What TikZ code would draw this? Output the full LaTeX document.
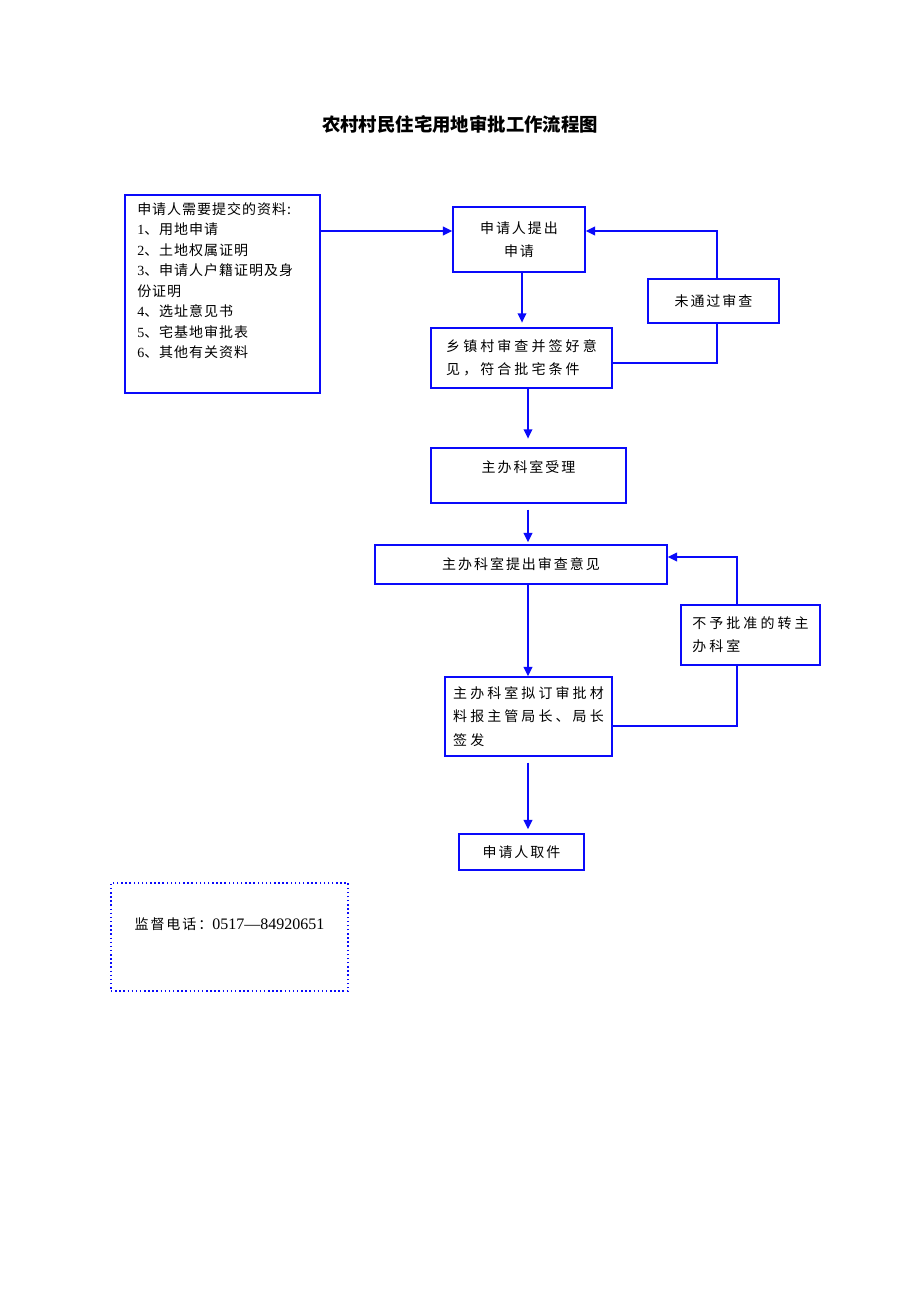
\documentclass[tikz,border=0pt]{standalone}
\usepackage{fontspec}
\setmainfont{Liberation Serif}
\newfontfamily\cjk[LetterSpace=14]{Noto Sans CJK SC}
\newfontfamily\cjktight[LetterSpace=7]{Noto Sans CJK SC}
\newfontfamily\cjkwide[LetterSpace=22]{Noto Sans CJK SC}
\newfontfamily\cjktitle{Noto Sans CJK SC}
\newfontfamily\latinfont{Liberation Serif}
\usetikzlibrary{arrows.meta, positioning}
\definecolor{lineblue}{RGB}{10,10,250}

\begin{document}
\begin{tikzpicture}[
    x=0.75pt, y=-0.75pt,
    flowbox/.style={rectangle, draw=lineblue, line width=1.1pt, inner sep=0pt,
                    font=\cjk\fontsize{10.5}{17.5}\selectfont},
    widebox/.style={flowbox, font=\cjkwide\fontsize{10.5}{17.5}\selectfont},
    arrow/.style={-{Triangle[length=7pt, width=6.5pt]}, draw=lineblue, line width=1.1pt},
    plainline/.style={draw=lineblue, line width=1.1pt}
]
\useasboundingbox (0,0) rectangle (920,1302);
\node[font=\cjktitle\bfseries\fontsize{13.8}{16}\selectfont] (title) at (460,124)
    {农村村民住宅用地审批工作流程图};
% materials list
\node[flowbox, minimum width=146.25pt, minimum height=148.5pt] (mats) at (222.5,294) {};
\node[anchor=north west, align=left, inner sep=0pt,
      font=\cjktight\fontsize{10.5}{15.4}\selectfont] (matstext) at (137,202)
    {申请人需要提交的资料:\\
     {\latinfont 1}、用地申请\\
     {\latinfont 2}、土地权属证明\\
     {\latinfont 3}、申请人户籍证明及身\\
     份证明\\
     {\latinfont 4}、选址意见书\\
     {\latinfont 5}、宅基地审批表\\
     {\latinfont 6}、其他有关资料};
% main flow
\node[flowbox, minimum width=99pt, minimum height=48.75pt, align=center] (apply) at (519,239.5)
    {申请人提出\\申请};
\node[widebox, minimum width=135.75pt, minimum height=45pt, align=left] (town) at (521.5,358)
    {乡镇村审查并签好意\\见，符合批宅条件};
\node[flowbox, minimum width=98.25pt, minimum height=33pt] (fail) at (713.5,301) {未通过审查};
\node[flowbox, minimum width=146.25pt, minimum height=41.25pt, text depth=14pt] (accept) at (528.5,475.5)
    {主办科室受理};
\node[flowbox, minimum width=219pt, minimum height=29.25pt] (opinion) at (521,564.5)
    {主办科室提出审查意见};
\node[widebox, minimum width=125.25pt, minimum height=59.25pt, align=left] (draft) at (528.5,716.5)
    {主办科室拟订审批材\\料报主管局长、局长\\签发};
\node[widebox, minimum width=104.25pt, minimum height=45pt, align=left] (reject) at (750.5,635)
    {不予批准的转主\\办科室};
\node[flowbox, minimum width=93.75pt, minimum height=27pt] (pickup) at (521.5,852) {申请人取件};
% supervision phone
\node[flowbox, dotted, line width=0.9pt,
      minimum width=177.75pt, minimum height=81pt, text depth=20.5pt] (phone) at (229.5,937)
    {监督电话：{\latinfont\fontsize{12}{15}\selectfont 0517—84920651}};

\coordinate (spine) at (528,0);
\coordinate (loop1) at (717,0);
\coordinate (loop2) at (737,0);
\draw[arrow] (mats.east |- 0,231) -- (apply.west |- 0,231);
\draw[arrow, shorten >=3.5pt] (apply.south -| 522,0) -- (town.north -| 522,0);
\draw[arrow, shorten >=6.5pt] (town.south -| spine) -- (accept.north -| spine);
\draw[arrow, shorten <=4.5pt, shorten >=1.5pt] (accept.south -| spine) -- (opinion.north -| spine);
\draw[arrow] (opinion.south -| spine) -- (draft.north -| spine);
\draw[arrow, shorten <=4.5pt, shorten >=3pt] (draft.south -| spine) -- (pickup.north -| spine);
% return loops
\draw[plainline] (town.east |- 0,363) -| (fail.south -| loop1);
\draw[arrow] (fail.north -| loop1) |- (apply.east |- 0,231);
\draw[plainline] (draft.east |- 0,726) -| (reject.south -| loop2);
\draw[arrow] (reject.north -| loop2) |- (opinion.east |- 0,557);
\end{tikzpicture}
\end{document}
